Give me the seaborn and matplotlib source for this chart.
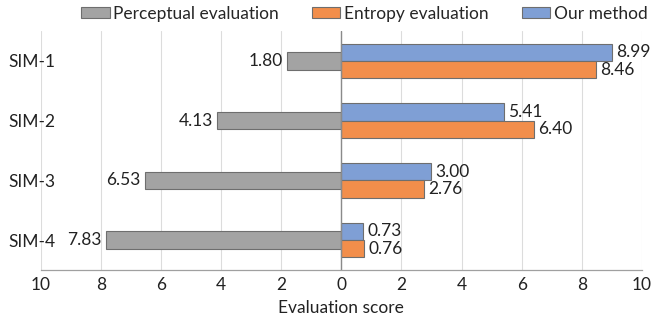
import pandas as pd
import matplotlib
matplotlib.use('Agg')
import matplotlib.pyplot as plt
import seaborn as sns
from matplotlib.ticker import FuncFormatter, MultipleLocator

sns.set_theme(style='white')
plt.rcParams['font.family'] = ['Lato', 'DejaVu Sans']

# data
SIMS = ['SIM-1', 'SIM-2', 'SIM-3', 'SIM-4']
PERCEPTUAL = [1.80, 4.13, 6.53, 7.83]
ENTROPY = [8.46, 6.40, 2.76, 0.76]
OURS = [8.99, 5.41, 3.00, 0.73]

GRAY = '#a3a3a3'
ORANGE = '#f28e4b'
BLUE = '#7f9fd5'
EDGE = '#6e6e6e'
FS = 12.5

fig = plt.figure(figsize=(6.53, 3.22), dpi=100)
ax = fig.add_axes([0.0623, 0.1615, 0.9207, 0.7422])

# negative side: perceptual evaluation
df_neg = pd.DataFrame({'sim': SIMS, 'score': [-v for v in PERCEPTUAL],
                       'method': 'Perceptual evaluation'})
sns.barplot(data=df_neg, x='score', y='sim', hue='method', orient='h',
            palette=[GRAY], width=0.29, edgecolor=EDGE, linewidth=0.8,
            saturation=1, ax=ax, legend=True)

# positive side: our method (upper) and entropy (lower)
df_pos = pd.concat([
    pd.DataFrame({'sim': SIMS, 'score': OURS, 'method': 'Our method'}),
    pd.DataFrame({'sim': SIMS, 'score': ENTROPY, 'method': 'Entropy evaluation'}),
])
sns.barplot(data=df_pos, x='score', y='sim', hue='method', orient='h',
            hue_order=['Our method', 'Entropy evaluation'],
            palette=[BLUE, ORANGE], width=0.58, edgecolor=EDGE, linewidth=0.8,
            saturation=1, ax=ax, legend=True)

# value labels
for cont in ax.containers:
    vals = cont.datavalues
    labels = [f'{abs(v):.2f}' for v in vals]
    ax.bar_label(cont, labels=labels, padding=3, fontsize=FS, color='#222222')

ax.set_xlim(-10, 10)
ax.set_ylim(3.5, -0.5)
ax.xaxis.set_major_locator(MultipleLocator(2))
ax.xaxis.set_minor_locator(MultipleLocator(1))
ax.xaxis.set_major_formatter(FuncFormatter(lambda v, p: f'{abs(v):g}'))
ax.grid(axis='x', which='major', color='#dcdcdc', linewidth=0.8)
ax.set_axisbelow(True)
ax.axvline(0, color='#8a8a8a', linewidth=1.0, zorder=1)

for side in ['top', 'right', 'left']:
    ax.spines[side].set_visible(False)
ax.spines['bottom'].set_color('#a0a0a0')
ax.spines['bottom'].set_linewidth(0.9)
ax.tick_params(axis='x', which='both', direction='in', length=3,
               color='#a0a0a0', labelsize=FS, pad=5, labelcolor='#222222')
ax.tick_params(axis='y', length=0, pad=23.5, labelsize=FS, labelcolor='#222222')
for lab in ax.get_yticklabels():
    lab.set_ha('left')

ax.set_ylabel('')
ax.set_xlabel('Evaluation score', fontsize=FS, color='#222222', labelpad=5)

# legend above the plot
handles, labels = ax.get_legend_handles_labels()
order = ['Perceptual evaluation', 'Entropy evaluation', 'Our method']
hmap = dict(zip(labels, handles))
ax.get_legend().remove()
fig.legend([hmap[k] for k in order], order, loc='center left',
           bbox_to_anchor=(81 / 653, 0.958), ncol=3, frameon=False,
           fontsize=FS, handlelength=1.65, handleheight=0.6,
           handletextpad=0.2, columnspacing=1.9, borderaxespad=0,
           borderpad=0)

fig.savefig('out.png', dpi=100)
